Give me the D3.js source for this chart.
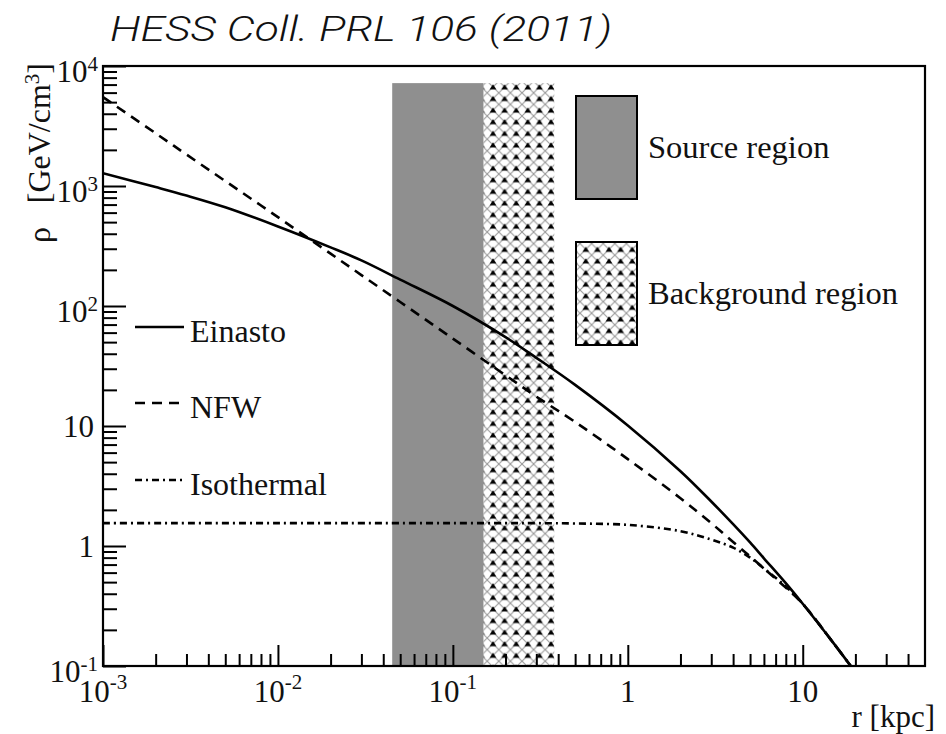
<!DOCTYPE html>
<html>
<head>
<meta charset="utf-8">
<script src="https://cdn.jsdelivr.net/npm/d3@7"></script>
<style>
  html, body { margin: 0; padding: 0; background: #fff; }
  svg { display: block; }
</style>
</head>
<body>
<svg id="chart" width="946" height="734"></svg>
<script>
// Dark-matter density profiles of the Galactic halo, rho(r) in GeV/cm^3
const radius     = [0.001, 0.002, 0.003, 0.005, 0.01, 0.02, 0.03, 0.05, 0.1, 0.2, 0.3, 0.5, 1, 2, 3, 4, 5, 6, 8, 10, 15, 19];
const einasto    = [1280, 980, 833, 665, 460, 308, 240, 166, 100, 55, 37, 22, 10.1, 4.2, 2.35, 1.52, 1.07, 0.79, 0.49, 0.33, 0.155, 0.098];
const nfw        = [5500, 2750, 1830, 1100, 550, 273, 181, 108, 53.5, 26.5, 17.6, 10.8, 5.3, 2.5, 1.55, 1.08, 0.82, 0.65, 0.45, 0.33, 0.155, 0.098];
const isothermal = [1.55, 1.55, 1.55, 1.55, 1.55, 1.55, 1.55, 1.55, 1.55, 1.55, 1.55, 1.54, 1.5, 1.33, 1.13, 0.97, 0.8, 0.65, 0.46, 0.33, 0.155, 0.098];

// Integration regions (kpc)
const sourceRegion     = [0.045, 0.15];
const backgroundRegion = [0.15, 0.38];
const regionTop = 7200;

const xMajor = [0.001, 0.01, 0.1, 1, 10];
const xMajorLabels = [["10", "-3"], ["10", "-2"], ["10", "-1"], ["1", ""], ["10", ""]];
const yMajor = [0.1, 1, 10, 100, 1000, 10000];
const yMajorLabels = [["10", "-1"], ["1", ""], ["10", ""], ["10", "2"], ["10", "3"], ["10", "4"]];

const SERIF = "'Liberation Serif', 'Times New Roman', 'DejaVu Serif', serif";
const svg = d3.select("#chart");
const L = 103, R = 925, T = 66, B = 666;

const x = d3.scaleLog().domain([1e-3, 50]).range([L, R]);
const y = d3.scaleLog().domain([0.1, 1e4]).range([B, T]);

function serifText(sel) {
  return sel.append("text").attr("font-family", SERIF).attr("fill", "#111");
}

// Fill patterns
const defs = svg.append("defs");
const pat = defs.append("pattern")
  .attr("id", "bgPattern").attr("patternUnits", "userSpaceOnUse")
  .attr("width", 11.6).attr("height", 11.6);
pat.append("rect").attr("width", 11.6).attr("height", 11.6).attr("fill", "#fff");
pat.append("path").attr("d", "M0,0L11.6,11.6M11.6,0L0,11.6M-5.8,5.8L5.8,17.4M5.8,-5.8L17.4,5.8M5.8,-5.8L-5.8,5.8M17.4,5.8L5.8,17.4")
  .attr("stroke", "#999").attr("stroke-width", 1.1).attr("fill", "none");
pat.append("path").attr("d", "M2.4,8.2L9.2,8.2L5.8,3.2Z").attr("fill", "#000");

defs.append("clipPath").attr("id", "plotClip")
  .append("rect").attr("x", L).attr("y", T).attr("width", R - L).attr("height", B - T);

// Regions
svg.append("rect")
  .attr("x", x(sourceRegion[0])).attr("y", y(regionTop))
  .attr("width", x(sourceRegion[1]) - x(sourceRegion[0]))
  .attr("height", y(0.1) - y(regionTop))
  .attr("fill", "#8f8f8f");
svg.append("rect")
  .attr("x", x(backgroundRegion[0])).attr("y", y(regionTop))
  .attr("width", x(backgroundRegion[1]) - x(backgroundRegion[0]))
  .attr("height", y(0.1) - y(regionTop))
  .attr("fill", "url(#bgPattern)");

// Minor and major ticks, pointing into the frame
const xMinor = x.ticks().filter(v => !xMajor.some(m => Math.abs(m - v) / m < 1e-6) && v > 1e-3 && v < 50);
const yMinor = y.ticks().filter(v => !yMajor.some(m => Math.abs(m - v) / m < 1e-6) && v > 0.1 && v < 1e4);

function drawAxis(gen, values, size, translate) {
  const g = svg.append("g").attr("transform", translate)
    .call(gen.tickValues(values).tickSize(size).tickSizeOuter(0).tickFormat(""));
  g.select(".domain").remove();
  g.selectAll(".tick line").attr("stroke", "#000").attr("stroke-width", 2);
}
drawAxis(d3.axisBottom(x), xMinor, -12, `translate(0,${B})`);
drawAxis(d3.axisBottom(x), xMajor, -21, `translate(0,${B})`);
drawAxis(d3.axisLeft(y), yMinor, -14, `translate(${L},0)`);
drawAxis(d3.axisLeft(y), yMajor, -23, `translate(${L},0)`);

// Curves
const line = d3.line().x(d => x(d[0])).y(d => y(d[1])).curve(d3.curveCatmullRom.alpha(0.5));
const curves = svg.append("g").attr("clip-path", "url(#plotClip)");
function drawCurve(values, dash) {
  curves.append("path")
    .datum(radius.map((r, i) => [r, values[i]]))
    .attr("d", line)
    .attr("fill", "none").attr("stroke", "#000").attr("stroke-width", 2.6)
    .attr("stroke-dasharray", dash);
}
drawCurve(isothermal, "7,4,2,4");
drawCurve(nfw, "10,7");
drawCurve(einasto, null);

// Frame
svg.append("rect").attr("x", L).attr("y", T).attr("width", R - L).attr("height", B - T)
  .attr("fill", "none").attr("stroke", "#000").attr("stroke-width", 2.2);

// Tick labels
xMajor.forEach((v, i) => {
  const [base, exp] = xMajorLabels[i];
  const t = serifText(svg).attr("x", x(v)).attr("y", 702)
    .attr("text-anchor", "middle").attr("font-size", 31);
  t.append("tspan").text(base);
  if (exp) t.append("tspan").attr("dy", -13).attr("font-size", 21).text(exp);
});
yMajor.forEach((v, i) => {
  const [base, exp] = yMajorLabels[i];
  const t = serifText(svg)
    .attr("x", exp ? 98 : 94).attr("y", y(v) + (exp ? 16 : 11))
    .attr("text-anchor", "end").attr("font-size", 31);
  t.append("tspan").text(base);
  if (exp) t.append("tspan").attr("dy", -11).attr("font-size", 21).text(exp);
});

// Axis titles
serifText(svg).attr("x", 935).attr("y", 727)
  .attr("text-anchor", "end").attr("font-size", 31).text("r [kpc]");
// y title: density symbol set apart from the bracketed unit
serifText(svg).attr("transform", "translate(50,243) rotate(-90)")
  .attr("text-anchor", "start").attr("font-size", 32).text("ρ");
const yt = serifText(svg)
  .attr("transform", "translate(50,63) rotate(-90)")
  .attr("text-anchor", "end").attr("font-size", 32);
yt.append("tspan").text("[GeV/cm");
yt.append("tspan").attr("dy", -11).attr("font-size", 21).text("3");
yt.append("tspan").attr("dy", 11).text("]");

// Profile legend
const profileLegend = [
  { name: "Einasto", dash: null, y: 327 },
  { name: "NFW", dash: "10,7", y: 403 },
  { name: "Isothermal", dash: "7,4,2,4", y: 480 }
];
profileLegend.forEach(d => {
  svg.append("line").attr("x1", 135).attr("x2", 184).attr("y1", d.y).attr("y2", d.y)
    .attr("stroke", "#000").attr("stroke-width", 2.4).attr("stroke-dasharray", d.dash);
  serifText(svg).attr("x", 190).attr("y", d.y + 15)
    .attr("font-size", 32).text(d.name);
});

// Region legend
const regionLegend = [
  { name: "Source region", fill: "#8f8f8f", top: 96 },
  { name: "Background region", fill: "url(#bgPattern)", top: 242 }
];
regionLegend.forEach(d => {
  svg.append("rect").attr("x", 576).attr("y", d.top).attr("width", 61).attr("height", 103)
    .attr("fill", d.fill).attr("stroke", "#000").attr("stroke-width", 2);
  serifText(svg).attr("x", 648).attr("y", d.top + 62)
    .attr("font-size", 32.5).text(d.name);
});

// Reference
svg.append("text").attr("x", 110).attr("y", 41)
  .attr("font-family", "Roboto, 'Liberation Sans', sans-serif").attr("font-weight", 300)
  .attr("font-style", "italic").attr("font-size", 35).attr("fill", "#111")
  .attr("textLength", 502).attr("lengthAdjust", "spacingAndGlyphs")
  .text("HESS Coll. PRL 106 (2011)");
</script>
</body>
</html>
